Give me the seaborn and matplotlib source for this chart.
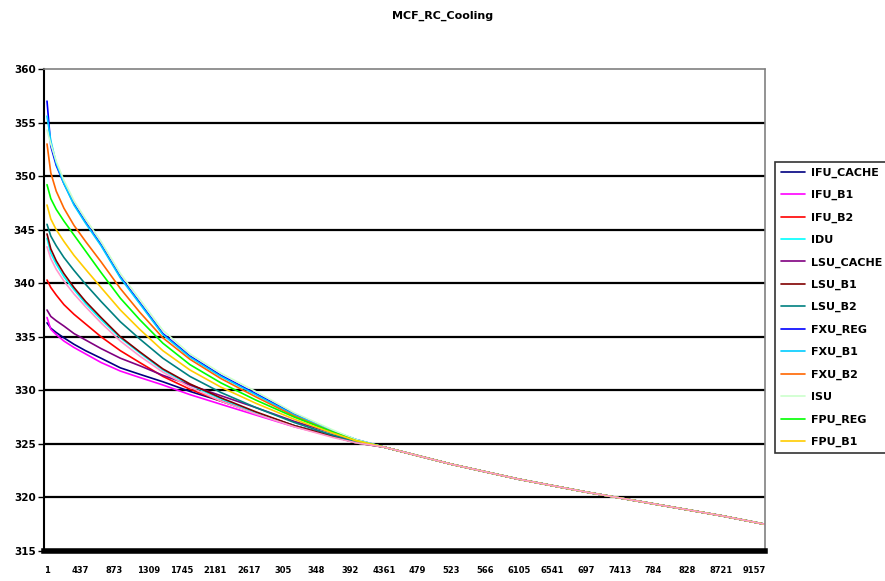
import numpy as np
import pandas as pd
import matplotlib
matplotlib.use("Agg")
import matplotlib.pyplot as plt
import seaborn as sns

# sample positions (time steps)
x_head = [1, 50, 120, 220, 350, 500, 700, 950, 1200, 1500, 1850, 2250, 2700, 3200, 3700, 4000]
x_tail = [4361, 5233, 6105, 6977, 7849, 8721, 9285]

# all curves run together after ~4300
tail = [324.7, 323.1, 321.7, 320.5, 319.4, 318.3, 317.5]

ifu_cache = [336.3, 335.8, 335.4, 334.9, 334.3, 333.7, 333.0, 332.1, 331.5, 330.8, 329.9, 329.0, 327.9, 326.7, 325.8, 325.2]
ifu_b1 = [336.8, 335.7, 335.2, 334.6, 334.0, 333.4, 332.6, 331.8, 331.2, 330.5, 329.6, 328.7, 327.7, 326.6, 325.7, 325.2]
ifu_b2 = [340.3, 339.6, 338.9, 338.0, 337.1, 336.2, 335.0, 333.7, 332.6, 331.3, 330.1, 329.0, 327.9, 326.7, 325.7, 325.1]
idu = [344.2, 342.8, 341.8, 340.6, 339.4, 338.1, 336.6, 334.9, 333.5, 331.9, 330.5, 329.2, 327.9, 326.7, 325.7, 325.1]
lsu_cache = [337.5, 336.9, 336.5, 336.0, 335.3, 334.7, 333.9, 333.0, 332.3, 331.4, 330.5, 329.5, 328.4, 327.1, 326.0, 325.3]
lsu_b1 = [344.6, 343.2, 342.1, 340.9, 339.6, 338.3, 336.8, 335.0, 333.6, 332.0, 330.6, 329.3, 328.0, 326.7, 325.7, 325.1]
lsu_b2 = [345.5, 344.4, 343.5, 342.4, 341.2, 339.9, 338.3, 336.4, 334.8, 333.0, 331.3, 329.8, 328.4, 327.0, 325.8, 325.2]
fxu_reg = [357.0, 352.8, 351.0, 349.3, 347.4, 345.7, 343.6, 340.6, 338.2, 335.3, 333.2, 331.4, 329.7, 327.8, 326.2, 325.4]
fxu_b1 = [355.6, 353.3, 351.2, 349.3, 347.3, 345.6, 343.5, 340.5, 338.1, 335.2, 333.1, 331.3, 329.6, 327.7, 326.2, 325.4]
fxu_b2 = [353.0, 350.3, 348.6, 347.0, 345.4, 343.9, 342.0, 339.5, 337.3, 334.9, 332.9, 331.1, 329.4, 327.6, 326.1, 325.3]
isu = [354.3, 353.0, 351.4, 349.6, 347.7, 346.0, 343.9, 340.9, 338.5, 335.6, 333.4, 331.6, 329.9, 327.9, 326.3, 325.4]
fpu_reg = [349.2, 347.9, 346.9, 345.8, 344.5, 343.0, 341.0, 338.6, 336.6, 334.4, 332.4, 330.7, 329.1, 327.5, 326.1, 325.3]
fpu_b1 = [347.3, 346.0, 345.0, 343.9, 342.6, 341.3, 339.6, 337.5, 335.7, 333.7, 331.9, 330.3, 328.8, 327.3, 326.0, 325.3]
fpu_b2 = [343.4, 342.3, 341.3, 340.2, 339.0, 337.8, 336.3, 334.6, 333.2, 331.7, 330.3, 329.0, 327.8, 326.6, 325.6, 325.1]

names = ["IFU_CACHE", "IFU_B1", "IFU_B2", "IDU", "LSU_CACHE", "LSU_B1", "LSU_B2",
         "FXU_REG", "FXU_B1", "FXU_B2", "ISU", "FPU_REG", "FPU_B1", "FPU_B2"]
series = [ifu_cache, ifu_b1, ifu_b2, idu, lsu_cache, lsu_b1, lsu_b2,
          fxu_reg, fxu_b1, fxu_b2, isu, fpu_reg, fpu_b1, fpu_b2]
colors = ["#000080", "#FF00FF", "#FF0000", "#00FFFF", "#800080", "#800000", "#008080",
          "#0000FF", "#00CCFF", "#FF6600", "#CCFFCC", "#00FF00", "#FFCC00", "#FF99CC"]

tick_pos = [1 + 436 * k for k in range(22)]
tick_labels = ["1", "437", "873", "1309", "1745", "2181", "2617", "305", "348", "392", "4361",
               "479", "523", "566", "6105", "6541", "697", "7413", "784", "828", "8721", "9157"]

sns.set_style("white")
plt.rcParams["font.family"] = ["DejaVu Sans"]
plt.rcParams["text.color"] = "black"
plt.rcParams["xtick.color"] = "black"
plt.rcParams["ytick.color"] = "black"

fig = plt.figure(figsize=(8.85, 5.81), dpi=100)
ax = fig.add_axes([44 / 885, 30 / 581, 721 / 885, 482 / 581])

xs = x_head + x_tail
for name, vals, c in zip(names, series, colors):
    df = pd.DataFrame({"step": xs, "temp": vals + tail})
    sns.lineplot(data=df, x="step", y="temp", color=c, linewidth=1.2,
                 label=name, legend=False, ax=ax)

ax.set_xlim(-38, 9290)
ax.set_ylim(315, 360)
ax.set_yticks(np.arange(315, 361, 5))
ax.set_xticks(tick_pos)
ax.set_xticklabels(tick_labels, fontsize=6, fontweight="bold")
ax.set_yticklabels([str(v) for v in range(315, 361, 5)], fontsize=7.5, fontweight="bold")
ax.set_xlabel("")
ax.set_ylabel("")
ax.tick_params(axis="x", length=0, pad=11)
ax.tick_params(axis="y", length=4, width=1, pad=2, color="black", direction="out", left=True)

for v in range(320, 360, 5):
    ax.axhline(v, color="black", linewidth=1.6, zorder=0)

ax.spines["left"].set_color("black")
ax.spines["left"].set_linewidth(1.5)
ax.spines["bottom"].set_color("black")
ax.spines["bottom"].set_linewidth(4)
for s in ["top", "right"]:
    ax.spines[s].set_color("#808080")
    ax.spines[s].set_linestyle((0, (1, 1)))
    ax.spines[s].set_linewidth(1.2)

# the last series has no legend entry in the original
handles, labels = ax.get_legend_handles_labels()
leg = fig.legend(handles[:13], labels[:13], loc="upper left",
                 bbox_to_anchor=(775 / 885, 1 - 162 / 581),
                 prop={"size": 8, "weight": "bold"}, frameon=True, fancybox=False,
                 edgecolor="black", handlelength=2.2, handletextpad=0.5,
                 labelspacing=1.1, borderpad=0.5, borderaxespad=0)
leg.get_frame().set_linewidth(1.2)
for t in leg.get_texts():
    t.set_color("black")

fig.text(0.5, 1 - 16 / 581, "MCF_RC_Cooling", ha="center", va="center",
         fontsize=8, fontweight="bold", color="black")

fig.savefig("out.png", dpi=100)
